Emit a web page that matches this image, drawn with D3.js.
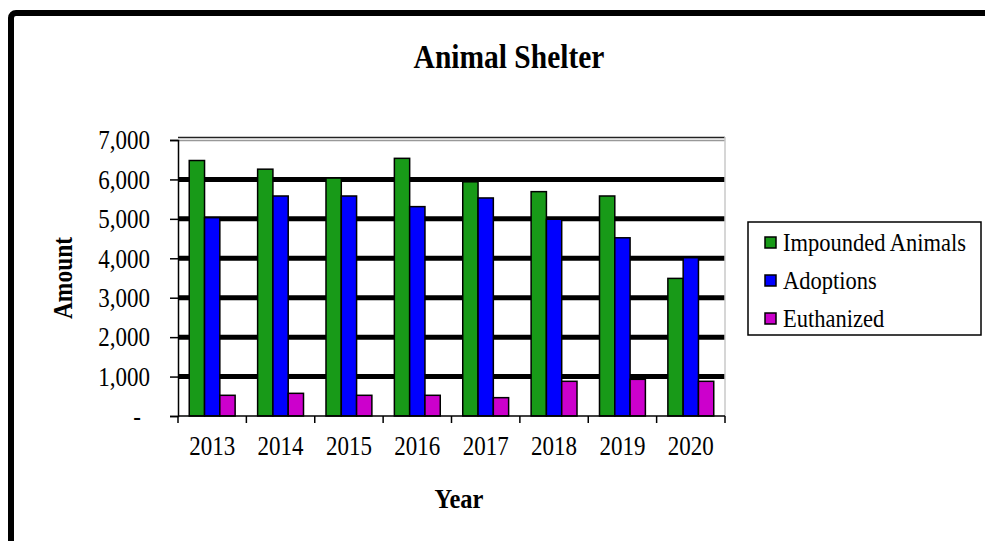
<!DOCTYPE html>
<html>
<head>
<meta charset="utf-8">
<script src="https://cdn.jsdelivr.net/npm/d3@7"></script>
<style>
  html, body { margin: 0; padding: 0; background: #fff; }
  svg { display: block; }
  text { font-family: "Liberation Serif", "Times New Roman", serif; fill: #000; }
</style>
</head>
<body>
<svg id="chart" width="985" height="541"></svg>
<script>
// ---- data ----
const years = ["2013", "2014", "2015", "2016", "2017", "2018", "2019", "2020"];
const seriesNames = ["Impounded Animals", "Adoptions", "Euthanized"];
const impounded = [6480, 6260, 6035, 6535, 5940, 5690, 5580, 3490];
const adoptions = [5030, 5580, 5580, 5310, 5530, 4990, 4520, 4015];
const euthanized = [525, 575, 525, 525, 465, 880, 930, 880];
const yTickValues = [0, 1000, 2000, 3000, 4000, 5000, 6000, 7000];
const seriesColors = ["#189a18", "#0000ff", "#cc00cc"];

const seriesValues = [impounded, adoptions, euthanized];
const SY = 1.15; // vertical text stretch

const svg = d3.select("#chart");

// outer frame
svg.append("rect")
  .attr("x", 11).attr("y", 13)
  .attr("width", 1000).attr("height", 600)
  .attr("rx", 5)
  .attr("fill", "#fff")
  .attr("stroke", "#000")
  .attr("stroke-width", 6);

const plot = { left: 178, right: 725, top: 140, bottom: 416 };

const x0 = d3.scaleBand().domain(years).range([plot.left, plot.right]).paddingInner(0).paddingOuter(0);
const x1 = d3.scaleBand().domain(seriesNames).range([0, x0.bandwidth()]).paddingInner(0).paddingOuter(0.735);
const y = d3.scaleLinear().domain([0, 7000]).range([plot.bottom, plot.top]);
const color = d3.scaleOrdinal().domain(seriesNames).range(seriesColors);

// title
svg.append("text")
  .attr("transform", `translate(509,68) scale(1,${SY})`)
  .attr("text-anchor", "middle")
  .attr("font-size", 29.5)
  .attr("font-weight", "bold")
  .text("Animal Shelter");

// gridlines (thick black)
svg.append("g")
  .selectAll("line")
  .data(yTickValues.filter(v => v > 0 && v < 7000))
  .join("line")
  .attr("x1", plot.left).attr("x2", plot.right)
  .attr("y1", d => y(d)).attr("y2", d => y(d))
  .attr("stroke", "#000")
  .attr("stroke-width", 5);

// top border double line
svg.append("line")
  .attr("x1", plot.left).attr("x2", plot.right)
  .attr("y1", y(7000) - 2.5).attr("y2", y(7000) - 2.5)
  .attr("stroke", "#222").attr("stroke-width", 1.5);
svg.append("line")
  .attr("x1", plot.left).attr("x2", plot.right)
  .attr("y1", y(7000) + 0.5).attr("y2", y(7000) + 0.5)
  .attr("stroke", "#999").attr("stroke-width", 1.5);
// right border gray
svg.append("line")
  .attr("x1", plot.right).attr("x2", plot.right)
  .attr("y1", plot.top - 3).attr("y2", plot.bottom)
  .attr("stroke", "#c8c8c8").attr("stroke-width", 1.5);

// bars
const rows = years.map((yr, i) => ({ year: yr, values: seriesNames.map((s, j) => ({ key: s, value: seriesValues[j][i] })) }));
svg.append("g")
  .selectAll("g")
  .data(rows)
  .join("g")
  .attr("transform", d => `translate(${x0(d.year)},0)`)
  .selectAll("rect")
  .data(d => d.values)
  .join("rect")
  .attr("x", d => x1(d.key))
  .attr("y", d => y(d.value))
  .attr("width", x1.bandwidth())
  .attr("height", d => y(0) - y(d.value))
  .attr("fill", d => color(d.key))
  .attr("stroke", "#000")
  .attr("stroke-width", 1.5);

// y axis
const yAxis = d3.axisLeft(y)
  .tickValues(yTickValues)
  .tickSize(8)
  .tickPadding(20)
  .tickFormat(d => d === 0 ? "-" : d3.format(",")(d));
const gy = svg.append("g").attr("transform", `translate(${plot.left},0)`).call(yAxis);
gy.select(".domain").attr("stroke", "#000").attr("stroke-width", 1.5);
gy.selectAll(".tick line").attr("stroke", "#000").attr("stroke-width", 1.5);
gy.selectAll(".tick text")
  .attr("font-family", "Liberation Serif")
  .attr("font-size", 23)
  .attr("fill", "#000")
  .attr("x", d => d === 0 ? -37 : -28)
  .attr("dy", "0.33em")
  .attr("transform", `scale(1,${SY})`);

// x axis (labels centered in bands)
const xAxis = d3.axisBottom(x0).tickSize(0).tickPadding(20);
const gx = svg.append("g").attr("transform", `translate(0,${plot.bottom})`).call(xAxis);
gx.select(".domain").remove();
gx.selectAll(".tick text")
  .attr("font-family", "Liberation Serif")
  .attr("font-size", 23)
  .attr("fill", "#000")
  .attr("y", 0)
  .attr("dy", 0)
  .attr("transform", `translate(0,39) scale(1,${SY})`);

// x axis line and boundary ticks
svg.append("line")
  .attr("x1", plot.left).attr("x2", plot.right)
  .attr("y1", plot.bottom).attr("y2", plot.bottom)
  .attr("stroke", "#000").attr("stroke-width", 1.5);
const boundaries = years.map(d => x0(d)).concat([x0.range()[1]]);
svg.append("g")
  .selectAll("line")
  .data(boundaries)
  .join("line")
  .attr("x1", d => d).attr("x2", d => d)
  .attr("y1", plot.bottom).attr("y2", plot.bottom + 7)
  .attr("stroke", "#000").attr("stroke-width", 1.5);

// axis titles
svg.append("text")
  .attr("transform", `translate(459,508) scale(1,${SY})`)
  .attr("text-anchor", "middle")
  .attr("font-size", 24.5)
  .attr("font-weight", "bold")
  .text("Year");
svg.append("text")
  .attr("transform", `translate(72,${(plot.top + plot.bottom) / 2}) rotate(-90) scale(1,${SY})`)
  .attr("text-anchor", "middle")
  .attr("font-size", 23.5)
  .attr("font-weight", "bold")
  .text("Amount");

// legend
const legend = svg.append("g");
legend.append("rect")
  .attr("x", 748).attr("y", 222)
  .attr("width", 233).attr("height", 113)
  .attr("fill", "#fff")
  .attr("stroke", "#000").attr("stroke-width", 1.5);
const li = legend.selectAll("g.item")
  .data(seriesNames)
  .join("g")
  .attr("class", "item")
  .attr("transform", (d, i) => `translate(765,${251 + i * 38})`);
li.append("rect")
  .attr("x", 0).attr("y", -14)
  .attr("width", 11).attr("height", 11)
  .attr("fill", d => color(d))
  .attr("stroke", "#000").attr("stroke-width", 1.5);
li.append("text")
  .attr("x", 18).attr("y", 0)
  .attr("transform", `scale(1,${SY})`)
  .attr("font-size", 22.5)
  .text(d => d);
</script>
</body>
</html>
